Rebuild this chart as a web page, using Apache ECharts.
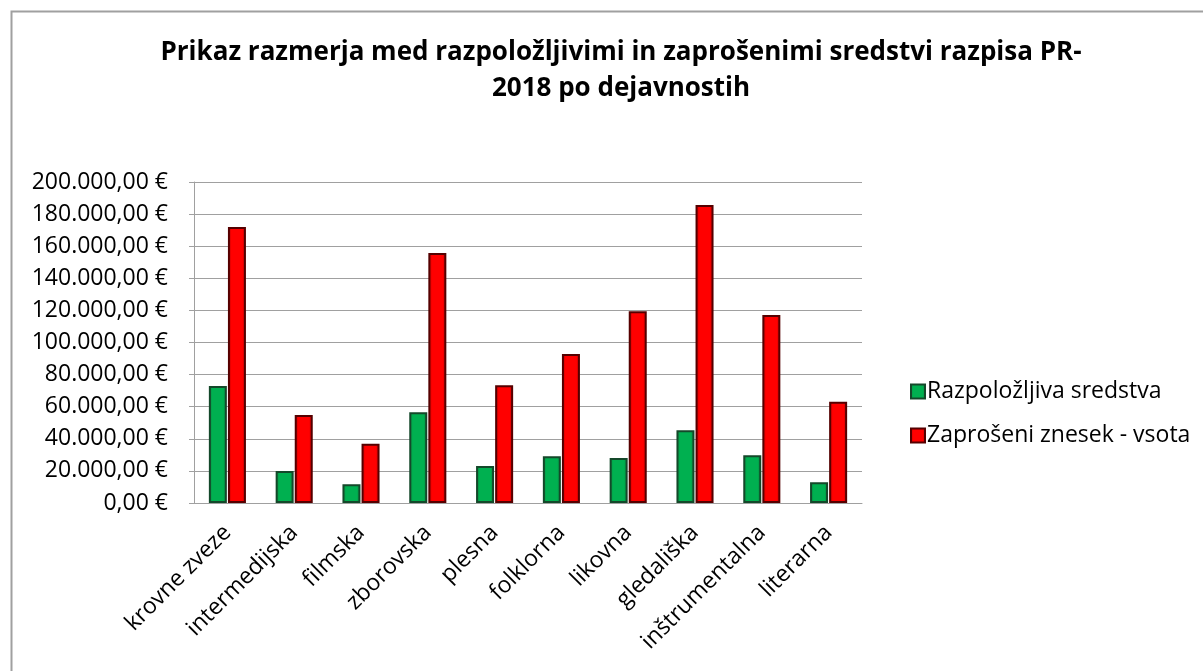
<!DOCTYPE html>
<html>
<head>
<meta charset="utf-8">
<script src="https://cdn.jsdelivr.net/npm/echarts@6/dist/echarts.min.js"></script>
<style>
html,body{margin:0;padding:0;background:#fff;}
#chart{width:1203px;height:671px;}
</style>
</head>
<body>
<div id="chart"></div>
<script>
const titleText = "Prikaz razmerja med razpoložljivimi in zaprošenimi sredstvi razpisa PR-\n2018 po dejavnostih";
const categories = ["krovne zveze","intermedijska","filmska","zborovska","plesna","folklorna","likovna","gledališka","inštrumentalna","literarna"];
const seriesNames = ["Razpoložljiva sredstva","Zaprošeni znesek - vsota"];
const available = [72900, 20000, 11700, 56500, 23100, 29200, 28100, 45400, 29800, 12900];
const requested = [171900, 54800, 36900, 155800, 73300, 92900, 119400, 185600, 117100, 63100];
const yMin = 0, yMax = 200000, yStep = 20000;

function fmtEuro(v){
  const s = Math.round(v).toString().replace(/\B(?=(\d{3})+(?!\d))/g, ".");
  return s + ",00 €";
}

const FONT = "Open Sans";
const chart = echarts.init(document.getElementById('chart'), null, {renderer:'canvas'});
chart.setOption({
  backgroundColor:'#fff',
  animation:false,
  title:{
    text:titleText,
    left:616, top:30, textAlign:'center',
    textStyle:{fontFamily:FONT,fontWeight:'bold',fontSize:26,color:'#000',lineHeight:36}
  },
  graphic:[{
    type:'rect', shape:{x:11.5,y:11.5,width:1300,height:800},
    style:{fill:null,stroke:'#a0a0a0',lineWidth:2}, silent:true
  }],
  legend:{
    orient:'vertical', left:905, top:375,
    itemWidth:14, itemHeight:14, itemGap:21,
    icon:'rect',
    textStyle:{fontFamily:FONT,fontSize:23,color:'#000',padding:[0,0,0,-3]},
    data:seriesNames
  },
  grid:{left:194, right:341, top:182, bottom:168, containLabel:false},
  xAxis:{
    type:'category', data:categories,
    axisLine:{show:true,lineStyle:{color:'#a0a0a0',width:1}},
    axisTick:{show:false},
    axisLabel:{rotate:45, interval:0, margin:26, fontFamily:FONT, fontSize:23, color:'#000'}
  },
  yAxis:{
    type:'value', min:yMin, max:yMax, interval:yStep,
    axisLine:{show:true,lineStyle:{color:'#a0a0a0',width:1}},
    axisTick:{show:true,length:5,lineStyle:{color:'#a0a0a0'}},
    splitLine:{show:true,lineStyle:{color:'#a0a0a0',width:1}},
    axisLabel:{formatter:fmtEuro, margin:26, fontFamily:FONT, fontSize:23, color:'#000'}
  },
  series:[
    {name:seriesNames[0], type:'bar', data:available, barWidth:18, barGap:'6%',
     itemStyle:{color:{type:'linear',x:0,y:0,x2:1,y2:0,colorStops:[{offset:0,color:'#0a8a3e'},{offset:0.2,color:'#00b050'},{offset:0.8,color:'#00b050'},{offset:1,color:'#0a7a38'}]},
       borderColor:'#14482a', borderWidth:2}},
    {name:seriesNames[1], type:'bar', data:requested, barWidth:18,
     itemStyle:{color:{type:'linear',x:0,y:0,x2:1,y2:0,colorStops:[{offset:0,color:'#b00000'},{offset:0.2,color:'#ff0000'},{offset:0.8,color:'#ff0000'},{offset:1,color:'#b00000'}]},
       borderColor:'#550000', borderWidth:2}}
  ]
});
</script>
</body>
</html>
